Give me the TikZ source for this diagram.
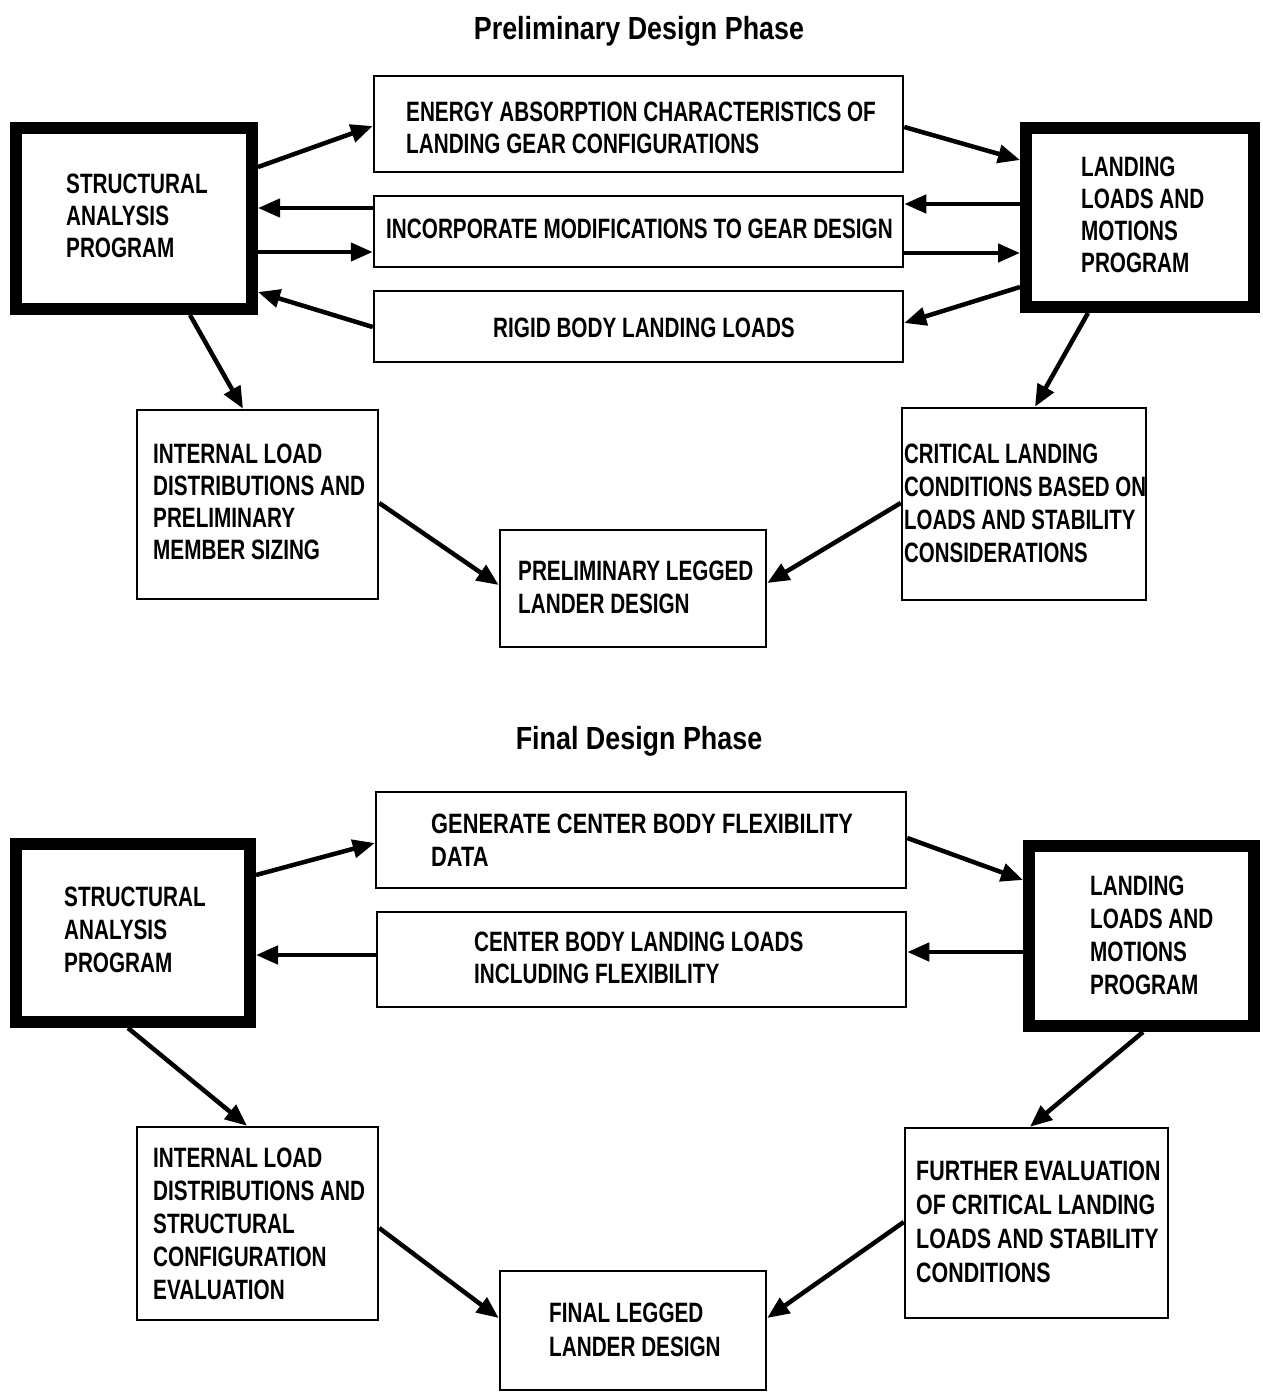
\documentclass[tikz,border=0pt]{standalone}
\usepackage{fontspec}
\usetikzlibrary{arrows.meta}
\newfontfamily\lblfont{Liberation Sans}[FakeStretch=0.74]
\newfontfamily\lblnarrow{Liberation Sans}[FakeStretch=0.73]
\newfontfamily\lblmid{Liberation Sans}[FakeStretch=0.765]
\newfontfamily\lblwide{Liberation Sans}[FakeStretch=0.78]
\newfontfamily\ttlfont{Liberation Sans}[FakeStretch=0.84]
\begin{document}
\begin{tikzpicture}[x=1pt,y=-1pt,
  thinbox/.style={draw,line width=2.5pt,inner sep=0pt},
  thickbox/.style={draw,line width=12pt,inner sep=0pt},
  txt/.style={anchor=north west,inner sep=0pt,align=left,
    font={\lblfont\bfseries\fontsize{28}{32}\selectfont}},
  txtb/.style={txt,font={\lblfont\bfseries\fontsize{28}{33}\selectfont}},
  ttl/.style={anchor=base,inner sep=0pt,font={\ttlfont\bfseries\fontsize{32}{38}\selectfont}},
  flow/.style={line width=4.5pt,-{Triangle[length=22pt,width=18pt]}}]
\fill[white] (0,0) rectangle (1262,1392);
\useasboundingbox (0,0) rectangle (1262,1392);

% ---------------- preliminary design phase ----------------
\node[ttl] (t1) at (639,39) {Preliminary Design Phase};

\node[thickbox,minimum width=236pt,minimum height=181pt] (sap1) at (134,218.5) {};
\node[thickbox,minimum width=228pt,minimum height=179pt] (llmp1) at (1140,217.5) {};
\node[thinbox,minimum width=529pt,minimum height=96pt] (energy) at (638.5,124) {};
\node[thinbox,minimum width=529pt,minimum height=71pt] (incorp) at (638.5,231.5) {};
\node[thinbox,minimum width=529pt,minimum height=71pt] (rigid) at (638.5,326.5) {};
\node[thinbox,minimum width=241pt,minimum height=189pt] (int1) at (257.5,504.5) {};
\node[thinbox,minimum width=244pt,minimum height=192pt] (crit1) at (1024,504) {};
\node[thinbox,minimum width=266pt,minimum height=117pt] (prelim) at (633,588.5) {};

\node[txt] (sap1t) at (66,174) {STRUCTURAL\\ANALYSIS\\PROGRAM};
\node[txt] (llmp1t) at (1081,157) {LANDING\\LOADS AND\\MOTIONS\\PROGRAM};
\node[txt] (energyt) at (406,102) {ENERGY ABSORPTION CHARACTERISTICS OF\\LANDING GEAR CONFIGURATIONS};
\node[txt] (incorpt) at (386,219) {INCORPORATE MODIFICATIONS TO GEAR DESIGN};
\node[txt] (rigidt) at (493,318) {RIGID BODY LANDING LOADS};
\node[txt] (int1t) at (153,444) {INTERNAL LOAD\\DISTRIBUTIONS AND\\PRELIMINARY\\MEMBER SIZING};
\node[txtb,font={\lblnarrow\bfseries\fontsize{28}{33}\selectfont}] (crit1t) at (904,444)
  {CRITICAL LANDING\\CONDITIONS BASED ON\\LOADS AND STABILITY\\CONSIDERATIONS};
\node[txtb] (prelimt) at (518,561) {PRELIMINARY LEGGED\\LANDER DESIGN};

\draw[flow] (sap1.east |- 0,167) -- (energy.west |- 0,126);
\draw[flow] (incorp.west |- 0,208) -- (sap1.east |- 0,208);
\draw[flow] (sap1.east |- 0,252) -- (incorp.west |- 0,252);
\draw[flow] (rigid.west |- 0,327) -- (sap1.east |- 0,292);
\draw[flow] (energy.east |- 0,127) -- (llmp1.west |- 0,160);
\draw[flow] (llmp1.west |- 0,204) -- (incorp.east |- 0,204);
\draw[flow] (incorp.east |- 0,253) -- (llmp1.west |- 0,253);
\draw[flow] (llmp1.west |- 0,287) -- (rigid.east |- 0,323);
\draw[flow] (190,0 |- sap1.south) -- (243,0 |- int1.north);
\draw[flow] (1088,0 |- llmp1.south) -- (1035,0 |- crit1.north);
\draw[flow] (int1.east |- 0,503) -- (prelim.west |- 0,585);
\draw[flow] (crit1.west |- 0,503) -- (prelim.east |- 0,583);

% ---------------- final design phase ----------------
\node[ttl] (t2) at (639,749) {Final Design Phase};

\node[thickbox,minimum width=234pt,minimum height=178pt] (sap2) at (133,933) {};
\node[thickbox,minimum width=225pt,minimum height=180pt] (llmp2) at (1141.5,936) {};
\node[thinbox,minimum width=530pt,minimum height=96pt] (gen) at (641,840) {};
\node[thinbox,minimum width=529pt,minimum height=95pt] (cbody) at (641.5,959.5) {};
\node[thinbox,minimum width=241pt,minimum height=193pt] (int2) at (257.5,1223.5) {};
\node[thinbox,minimum width=263pt,minimum height=190pt] (further) at (1036.5,1223) {};
\node[thinbox,minimum width=266pt,minimum height=119pt] (final) at (633,1330.5) {};

\node[txtb] (sap2t) at (64,887) {STRUCTURAL\\ANALYSIS\\PROGRAM};
\node[txtb] (llmp2t) at (1090,876) {LANDING\\LOADS AND\\MOTIONS\\PROGRAM};
\node[txtb,font={\lblwide\bfseries\fontsize{28}{33}\selectfont}] (gent) at (431,814)
  {GENERATE CENTER BODY FLEXIBILITY\\DATA};
\node[txt] (cbodyt) at (474,932) {CENTER BODY LANDING LOADS\\INCLUDING FLEXIBILITY};
\node[txtb] (int2t) at (153,1148) {INTERNAL LOAD\\DISTRIBUTIONS AND\\STRUCTURAL\\CONFIGURATION\\EVALUATION};
\node[txtb,font={\lblmid\bfseries\fontsize{28}{34}\selectfont}] (furthert) at (916,1161)
  {FURTHER EVALUATION\\OF CRITICAL LANDING\\LOADS AND STABILITY\\CONDITIONS};
\node[txtb,font={\lblfont\bfseries\fontsize{28}{34}\selectfont}] (finalt) at (549,1303)
  {FINAL LEGGED\\LANDER DESIGN};

\draw[flow] (sap2.east |- 0,875) -- (gen.west |- 0,843);
\draw[flow] (cbody.west |- 0,955) -- (sap2.east |- 0,955);
\draw[flow] (gen.east |- 0,838) -- (llmp2.west |- 0,880);
\draw[flow] (llmp2.west |- 0,952) -- (cbody.east |- 0,952);
\draw[flow] (128,0 |- sap2.south) -- (247,0 |- int2.north);
\draw[flow] (1143,0 |- llmp2.south) -- (1030,0 |- further.north);
\draw[flow] (int2.east |- 0,1228) -- (final.west |- 0,1318);
\draw[flow] (further.west |- 0,1222) -- (final.east |- 0,1318);
\end{tikzpicture}
\end{document}
